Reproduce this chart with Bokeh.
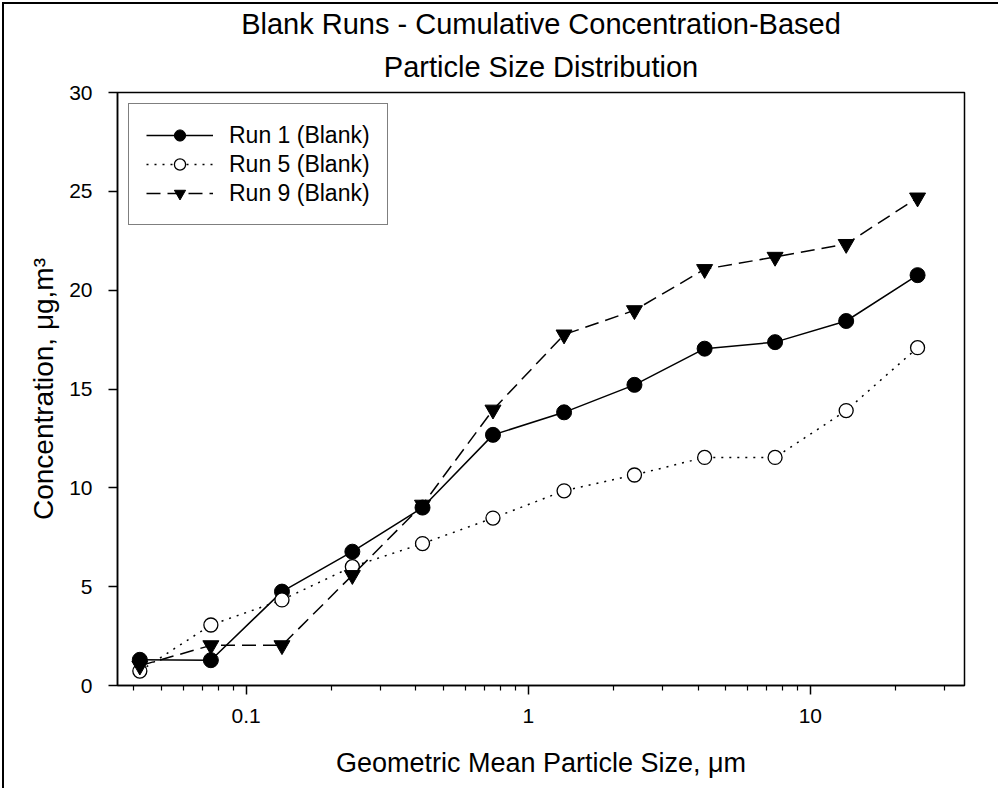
from bokeh.plotting import figure
from bokeh.models import (FixedTicker, Legend, LegendItem, Title, Range1d)
from bokeh.embed import file_html
from bokeh.resources import INLINE

# ---- data ----
size_um = [0.042, 0.075, 0.134, 0.238, 0.422, 0.75, 1.34, 2.38, 4.22, 7.5, 13.4, 24.0]
run1 = [1.30, 1.28, 4.75, 6.77, 9.00, 12.68, 13.82, 15.21, 17.04, 17.37, 18.44, 20.76]
run5 = [0.73, 3.06, 4.33, 6.01, 7.18, 8.47, 9.85, 10.65, 11.54, 11.54, 13.91, 17.09]
run9 = [1.00, 2.03, 2.03, 5.58, 9.14, 13.95, 17.75, 18.98, 21.06, 21.68, 22.33, 24.68]

x_major = [0.1, 1, 10]
x_major_labels = ["0.1", "1", "10"]
x_minor = [0.04, 0.05, 0.06, 0.07, 0.08, 0.09,
           0.2, 0.3, 0.4, 0.5, 0.6, 0.7, 0.8, 0.9,
           2, 3, 4, 5, 6, 7, 8, 9, 20, 30]
y_ticks = [0, 5, 10, 15, 20, 25, 30]
title_lines = ["Blank Runs - Cumulative Concentration-Based", "Particle Size Distribution"]

FONT = "Liberation Sans"

p = figure(width=996, height=786, x_axis_type="log",
           x_range=Range1d(0.035, 35.2), y_range=Range1d(0, 30),
           output_backend="svg", toolbar_location=None,
           min_border_left=113, min_border_right=36,
           min_border_top=88, min_border_bottom=105)
p.title = None
p.styles = {"border-left": "2px solid black", "border-top": "2px solid black",
            "margin-left": "2px", "margin-top": "2px"}

# title: second line first (closest to the plot), then first line
p.add_layout(Title(text=title_lines[1], align="center", text_font=FONT,
                   text_font_size="29px", text_font_style="normal",
                   text_color="black", standoff=19), "above")
p.add_layout(Title(text=title_lines[0], align="center", text_font=FONT,
                   text_font_size="29px", text_font_style="normal",
                   text_color="black", standoff=0), "above")

p.grid.visible = False
p.outline_line_color = "black"
p.outline_line_width = 1.5

xa = p.xaxis[0]
xa.ticker = FixedTicker(ticks=x_major, minor_ticks=x_minor)
xa.major_label_overrides = dict(zip(x_major, x_major_labels))
xa.axis_label = "Geometric Mean Particle Size, μm"
ya = p.yaxis[0]
ya.ticker = FixedTicker(ticks=y_ticks, minor_ticks=[])
ya.axis_label = "Concentration, μg,m³"

for ax in (xa, ya):
    ax.axis_line_color = "black"
    ax.axis_line_width = 1.5
    ax.major_tick_line_color = "black"
    ax.major_tick_line_width = 1.5
    ax.minor_tick_line_color = "black"
    ax.minor_tick_line_width = 1.2
    ax.major_tick_in = 0
    ax.major_tick_out = 9
    ax.minor_tick_in = 0
    ax.minor_tick_out = 5
    ax.major_label_text_font = FONT
    ax.major_label_text_font_size = "21px"
    ax.major_label_text_color = "black"
    ax.axis_label_text_font = FONT
    ax.axis_label_text_font_size = "27px"
    ax.axis_label_text_font_style = "normal"
    ax.axis_label_text_color = "black"
ya.axis_label_text_font_size = "28px"
ya.major_label_standoff = 16
xa.major_label_standoff = 14
ya.axis_label_standoff = 7
xa.axis_label_standoff = 22

l1 = p.line(size_um, run1, line_color="black", line_width=1.5)
s1 = p.scatter(size_um, run1, marker="circle", size=15, fill_color="black", line_color="black")
l5 = p.line(size_um, run5, line_color="black", line_width=1.5, line_dash="2 6")
s5 = p.scatter(size_um, run5, marker="circle", size=14, fill_color="white", line_color="black", line_width=1.3)
l9 = p.line(size_um, run9, line_color="black", line_width=1.5, line_dash="14 7")
s9 = p.scatter(size_um, run9, marker="inverted_triangle", size=16, fill_color="black", line_color="black")

legend = Legend(items=[
    LegendItem(label="Run 1 (Blank)", renderers=[l1, s1]),
    LegendItem(label="Run 5 (Blank)", renderers=[l5, s5]),
    LegendItem(label="Run 9 (Blank)", renderers=[l9, s9]),
], location="top_left")
legend.margin = 11
legend.padding = 17
legend.spacing = 1
legend.glyph_width = 67
legend.glyph_height = 28
legend.label_height = 28
legend.label_standoff = 16
legend.label_text_font = FONT
legend.label_text_font_size = "23px"
legend.label_text_color = "black"
legend.border_line_color = "black"
legend.border_line_width = 1
legend.background_fill_alpha = 1
p.add_layout(legend)

open("out.html", "w").write(file_html(p, INLINE))
